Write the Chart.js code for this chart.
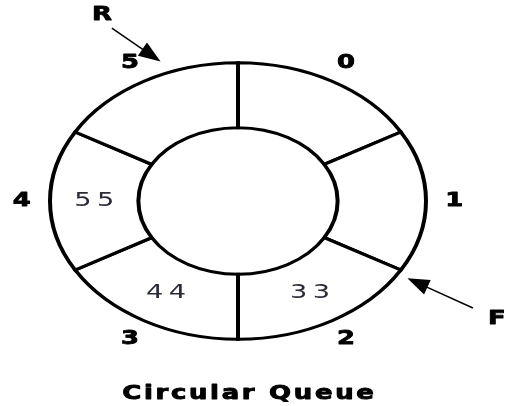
<!DOCTYPE html>
<html>
<head>
<meta charset="utf-8">
<script src="https://cdn.jsdelivr.net/npm/chart.js@4.4.0/dist/chart.umd.min.js"></script>
<style>
  html, body { margin: 0; padding: 0; background: #fff; }
</style>
</head>
<body>
<canvas id="queue" width="506" height="406"></canvas>
<script>
// slots of the circular queue, clockwise from the top
const slotLabels = ['0', '1', '2', '3', '4', '5'];
const slotSizes = [1, 1, 1, 1, 1, 1];
const queueValues = ['', '', '33', '44', '55', ''];
const frontIndex = 2;
const rearIndex = 5;
const frontName = 'F';
const rearName = 'R';
const chartTitle = 'Circular Queue';

const SQUASH = 0.735;          // the ring is an ellipse in the original
const STRETCH = 1 / SQUASH;    // and the text is stretched sideways

function ellPoint(el, angle, f) {
  return {
    x: el.x + Math.cos(angle) * el.outerRadius * f,
    y: el.y + Math.sin(angle) * el.outerRadius * f * SQUASH
  };
}

function wideText(ctx, txt, x, y, font, color, spacing, heavy) {
  ctx.save();
  ctx.translate(x, y);
  ctx.scale(STRETCH, 1);
  ctx.font = font;
  ctx.fillStyle = color;
  ctx.strokeStyle = color;
  ctx.textAlign = 'center';
  ctx.textBaseline = 'middle';
  if (spacing) ctx.letterSpacing = spacing + 'px';
  const dx = spacing ? spacing / 2 : 0;
  ctx.fillText(txt, dx, 0);
  if (heavy) {
    ctx.lineWidth = heavy;
    ctx.lineJoin = 'round';
    ctx.strokeText(txt, dx, 0);
  }
  ctx.restore();
}

function arrow(ctx, tail, tip) {
  const dx = tip.x - tail.x, dy = tip.y - tail.y;
  const len = Math.hypot(dx, dy);
  const ux = dx / len, uy = dy / len;
  const hl = 22, hw = 8;
  const bx = tip.x - ux * hl, by = tip.y - uy * hl;
  ctx.save();
  ctx.strokeStyle = '#000';
  ctx.fillStyle = '#000';
  ctx.lineWidth = 1.5;
  ctx.beginPath();
  ctx.moveTo(tail.x, tail.y);
  ctx.lineTo(bx + ux * 3, by + uy * 3);
  ctx.stroke();
  ctx.beginPath();
  ctx.moveTo(tip.x, tip.y);
  ctx.lineTo(bx - uy * hw, by + ux * hw);
  ctx.lineTo(bx + uy * hw, by - ux * hw);
  ctx.closePath();
  ctx.fill();
  ctx.restore();
}

function angleIn(el, frac) {
  return el.startAngle + (el.endAngle - el.startAngle) * frac;
}

const ellipsePlugin = {
  id: 'ellipse',
  beforeDatasetsDraw(chart) {
    const el = chart.getDatasetMeta(0).data[0];
    const ctx = chart.ctx;
    ctx.save();
    ctx.translate(el.x, el.y);
    ctx.scale(1, SQUASH);
    ctx.translate(-el.x, -el.y);
  },
  afterDatasetsDraw(chart) {
    chart.ctx.restore();
  }
};

const labelPlugin = {
  id: 'queueLabels',
  afterDraw(chart) {
    const ctx = chart.ctx;
    const arcs = chart.getDatasetMeta(0).data;
    const boldFont = 'bold 19px "DejaVu Sans"';

    arcs.forEach((el, i) => {
      const mid = (el.startAngle + el.endAngle) / 2;
      const p = ellPoint(el, mid, 1.15);
      wideText(ctx, slotLabels[i], p.x, p.y, boldFont, '#000', 0, 0.8);

      if (queueValues[i] !== '') {
        const ringMid = (el.innerRadius / el.outerRadius + 1) / 2;
        const q = ellPoint(el, mid, ringMid);
        wideText(ctx, queueValues[i], q.x, q.y, '20px "DejaVu Sans"', '#2b2b38', 4);
      }
    });

    // front pointer
    const fe = arcs[frontIndex];
    const fa = angleIn(fe, 0.03);
    arrow(ctx, ellPoint(fe, fa, 1.47), ellPoint(fe, fa, 1.06));
    const fl = ellPoint(fe, fa, 1.62);
    wideText(ctx, frontName, fl.x, fl.y, boldFont, '#000', 0, 0.8);

    // rear pointer
    const re = arcs[rearIndex];
    const ra = angleIn(re, 0.53);
    arrow(ctx, ellPoint(re, ra, 1.42), ellPoint(re, angleIn(re, 0.63), 1.09));
    const rl = ellPoint(re, ra, 1.53);
    wideText(ctx, rearName, rl.x, rl.y, boldFont, '#000', 0, 0.8);

    const c = arcs[0];
    wideText(ctx, chartTitle, c.x + 10, 394, boldFont, '#000', 2, 0.9);
  }
};

new Chart(document.getElementById('queue'), {
  type: 'doughnut',
  data: {
    labels: slotLabels,
    datasets: [{
      data: slotSizes,
      backgroundColor: '#fff',
      borderColor: '#000',
      borderWidth: 4,
      borderJoinStyle: 'miter',
      clip: false
    }]
  },
  options: {
    responsive: false,
    animation: false,
    events: [],
    radius: 188,
    cutout: '53%',
    layout: { padding: { left: 0, right: 30, top: 0, bottom: 4 } },
    plugins: {
      legend: { display: false },
      tooltip: { enabled: false }
    }
  },
  plugins: [ellipsePlugin, labelPlugin]
});
</script>
</body>
</html>
